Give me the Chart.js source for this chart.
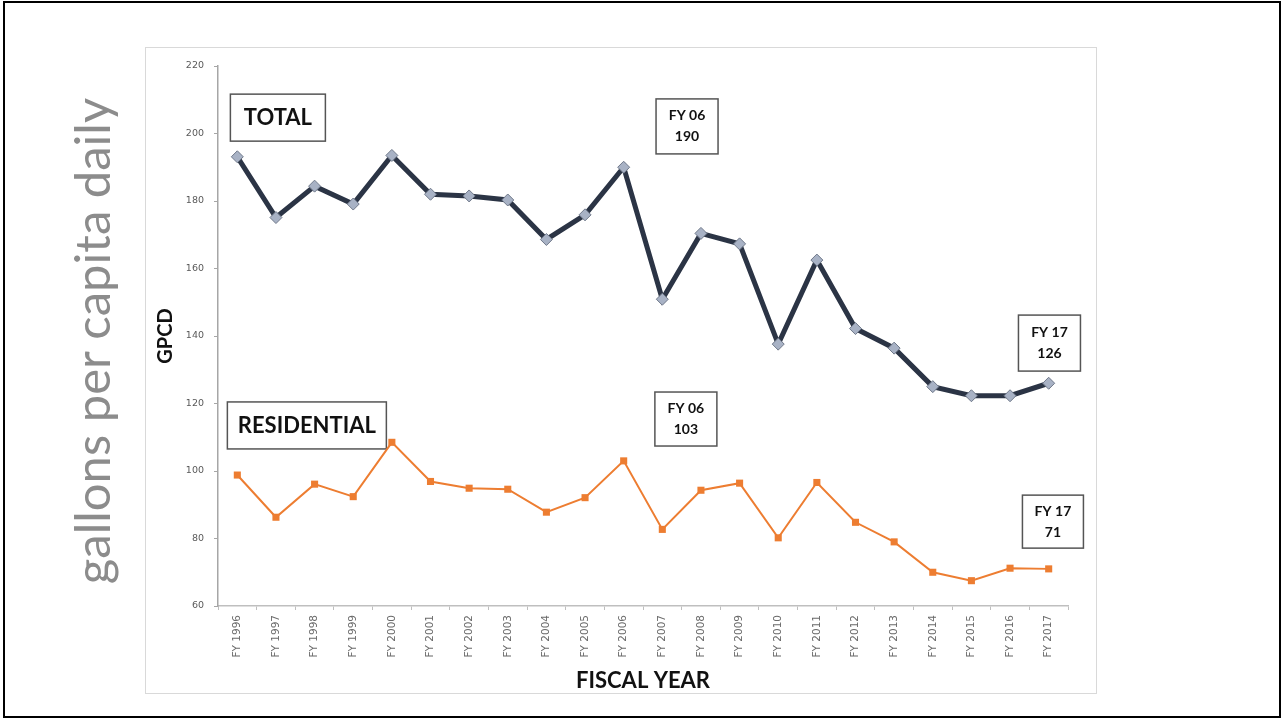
<!DOCTYPE html>
<html>
<head>
<meta charset="utf-8">
<script src="https://cdn.jsdelivr.net/npm/chart.js@4.4.1/dist/chart.umd.min.js"></script>
<style>
  html, body { margin: 0; padding: 0; background: #fff; }
  #page { position: relative; width: 1281px; height: 719px; overflow: hidden; background: #fff; }
  #frame { position: absolute; left: 3px; top: 1px; width: 1274px; height: 713px; border: 2px solid #000; }
  #bigLabel {
    position: absolute; left: 91px; top: 341px;
    transform: translate(-50%, -50%) rotate(-90deg);
    font-family: Lato, sans-serif; font-size: 49px; line-height: 1;
    color: #8c8c8c; white-space: nowrap;
  }
  #panel { position: absolute; left: 145px; top: 47px; width: 950px; height: 645px; border: 1px solid #d9d9d9; }
  #chart { display: block; }
</style>
</head>
<body>
<div id="page">
  <div id="frame"></div>
  <div id="bigLabel">gallons per capita daily</div>
  <div id="panel"><canvas id="chart" width="950" height="645"></canvas></div>
</div>
<script>
const years = ["FY 1996", "FY 1997", "FY 1998", "FY 1999", "FY 2000", "FY 2001", "FY 2002", "FY 2003",
  "FY 2004", "FY 2005", "FY 2006", "FY 2007", "FY 2008", "FY 2009", "FY 2010", "FY 2011",
  "FY 2012", "FY 2013", "FY 2014", "FY 2015", "FY 2016", "FY 2017"];
const totalGpcd = [193.1, 175.1, 184.4, 179.1, 193.5, 182.0, 181.5, 180.3, 168.6, 175.9, 190.0,
  150.9, 170.4, 167.3, 137.6, 162.5, 142.2, 136.4, 125.0, 122.3, 122.3, 126.0];
const residentialGpcd = [98.8, 86.3, 96.1, 92.4, 108.5, 96.9, 94.9, 94.6, 87.8, 92.1, 103.0,
  82.7, 94.3, 96.4, 80.2, 96.6, 84.8, 79.0, 70.0, 67.5, 71.2, 71.0];
const yMin = 60;
const yMax = 220;
const yStep = 20;

// text boxes, centred at (category index, GPCD value)
const callouts = [
  { lines: ["TOTAL"], at: [1.05, 204.7], w: 95, h: 47, size: 22 },
  { lines: ["RESIDENTIAL"], at: [1.80, 113.5], w: 159, h: 47, size: 22 },
  { lines: ["FY 06", "190"], at: [11.64, 202.1], w: 62, h: 55, size: 14 },
  { lines: ["FY 17", "126"], at: [21.02, 137.9], w: 62, h: 56, size: 14 },
  { lines: ["FY 06", "103"], at: [11.61, 115.4], w: 62, h: 54, size: 14 },
  { lines: ["FY 17", "71"], at: [21.11, 85.0], w: 61, h: 53, size: 14 }
];

const calloutPlugin = {
  id: "callouts",
  beforeDatasetsDraw(chart) {
    const { ctx, scales: { x, y } } = chart;
    ctx.save();
    callouts.forEach(c => {
      const cx = x.getPixelForValue(0) + c.at[0] * (x.getPixelForValue(1) - x.getPixelForValue(0));
      const cy = y.getPixelForValue(c.at[1]);
      ctx.fillStyle = "#fff";
      ctx.strokeStyle = "#555";
      ctx.lineWidth = 1.5;
      ctx.fillRect(cx - c.w / 2, cy - c.h / 2, c.w, c.h);
      ctx.strokeRect(cx - c.w / 2, cy - c.h / 2, c.w, c.h);
      ctx.fillStyle = "#111";
      ctx.font = "bold " + c.size + "px Lato, sans-serif";
      ctx.textAlign = "center";
      ctx.textBaseline = "middle";
      const gap = 21;
      const start = cy - (c.lines.length - 1) * gap / 2;
      c.lines.forEach((t, i) => ctx.fillText(t, cx, start + i * gap));
    });
    ctx.restore();
  }
};

const ctx = document.getElementById("chart").getContext("2d");
new Chart(ctx, {
  type: "line",
  data: {
    labels: years,
    datasets: [
      {
        label: "TOTAL",
        data: totalGpcd,
        borderColor: "#2b3445",
        borderWidth: 5,
        pointStyle: "rectRot",
        pointRadius: 6,
        pointBackgroundColor: "#a8b2c5",
        pointBorderColor: "#6f7889",
        pointBorderWidth: 1,
        tension: 0
      },
      {
        label: "RESIDENTIAL",
        data: residentialGpcd,
        borderColor: "#ed7d31",
        borderWidth: 2,
        pointStyle: "rect",
        pointRadius: 5,
        pointBackgroundColor: "#ed7d31",
        pointBorderColor: "#ed7d31",
        pointBorderWidth: 0,
        tension: 0
      }
    ]
  },
  options: {
    responsive: false,
    animation: false,
    layout: { padding: { top: 18, right: 28, left: 0, bottom: 0 } },
    plugins: {
      legend: { display: false },
      tooltip: { enabled: false }
    },
    scales: {
      x: {
        offset: true,
        grid: { display: true, drawOnChartArea: false, offset: true, tickLength: 4, color: "#bfbfbf" },
        border: { color: "#bfbfbf", width: 1.5 },
        ticks: {
          autoSkip: false, minRotation: 90, maxRotation: 90, padding: 5,
          color: "#6a6a6a", font: { family: "DejaVu Sans", size: 10.5 }
        },
        title: {
          display: true, text: "FISCAL YEAR", color: "#111",
          font: { family: "Lato", size: 22, weight: "bold", lineHeight: 1.1 },
          padding: { top: 0, bottom: 0 }
        },
        afterFit(scale) { scale.height = 87; }
      },
      y: {
        min: yMin,
        max: yMax,
        grid: { display: true, drawOnChartArea: false, tickLength: 4, color: "#a6a6a6" },
        border: { color: "#a6a6a6", width: 1.5 },
        ticks: {
          stepSize: yStep, padding: 10,
          color: "#595959", font: { family: "DejaVu Sans", size: 9.5 }
        },
        title: {
          display: true, text: "GPCD", color: "#111",
          font: { family: "Lato", size: 20, weight: "bold", lineHeight: 1.2 },
          padding: { top: 7.5, bottom: 0 }
        },
        afterFit(scale) { scale.width = 72; }
      }
    }
  },
  plugins: [calloutPlugin]
});
</script>
</body>
</html>
